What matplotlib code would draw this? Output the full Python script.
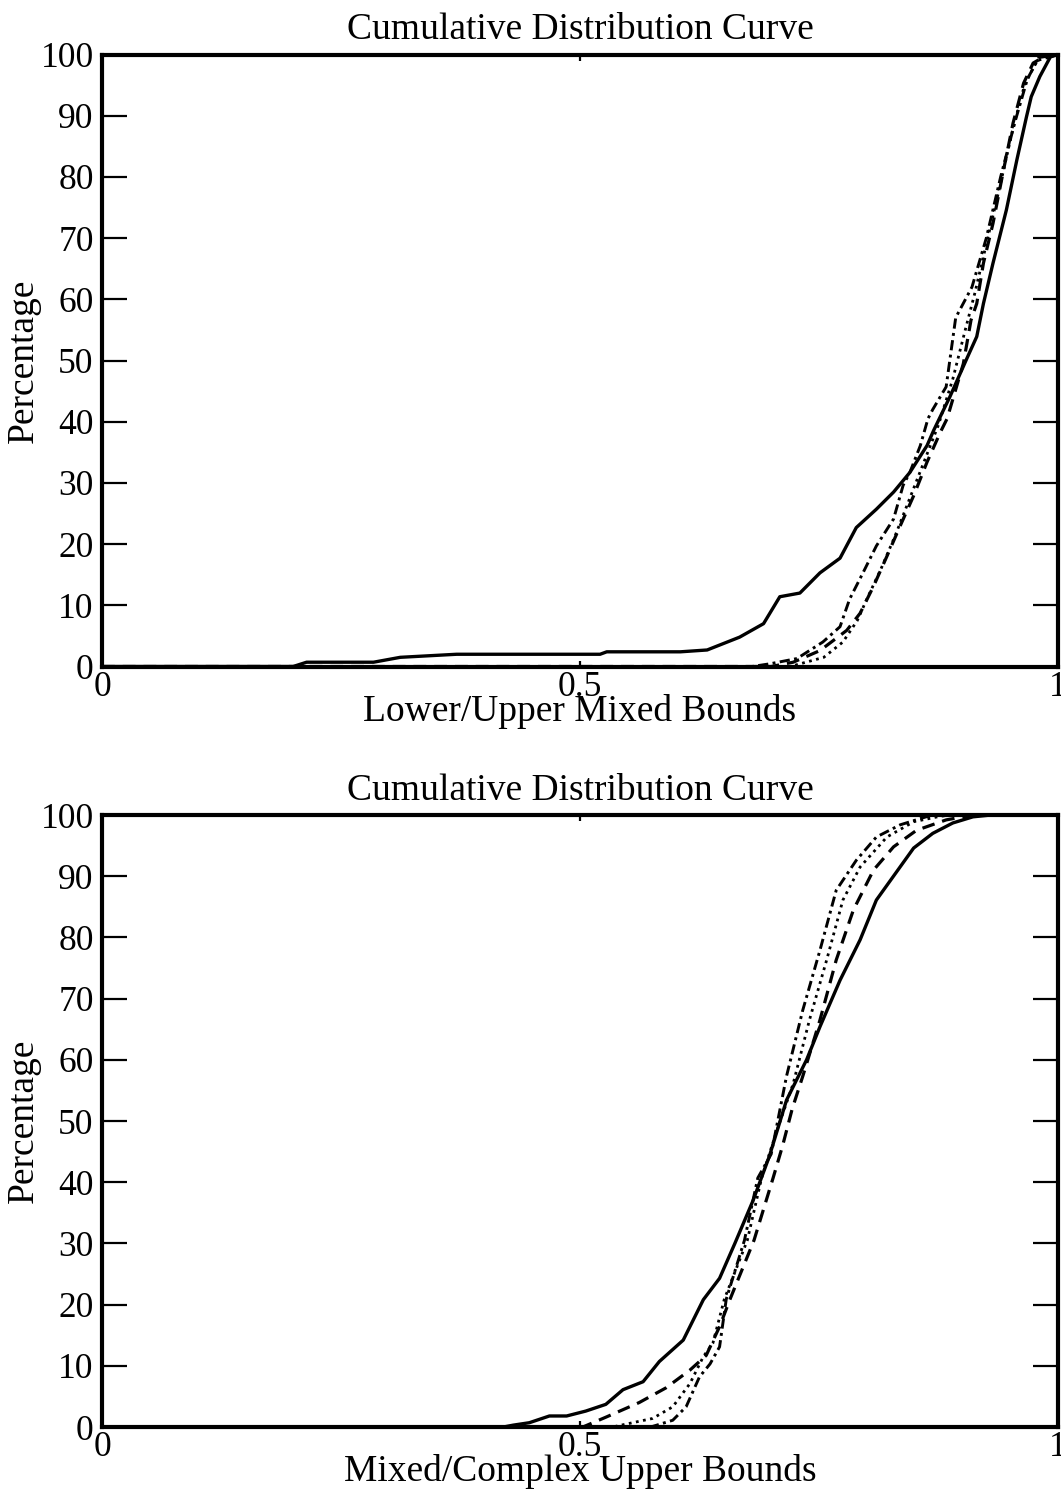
import matplotlib
matplotlib.use("Agg")
import matplotlib.pyplot as plt

plt.rcParams['font.family'] = ['Liberation Serif', 'DejaVu Serif']

# ---------------- data: top panel (Lower/Upper Mixed Bounds) ----------------
top_solid_x = [0.0, 0.20, 0.214, 0.284, 0.312, 0.371, 0.521, 0.528, 0.605, 0.633, 0.667, 0.692,
               0.709, 0.730, 0.751, 0.772, 0.789, 0.810, 0.828, 0.845, 0.863, 0.870, 0.887, 0.904,
               0.915, 0.922, 0.932, 0.946, 0.957, 0.967, 0.972, 0.981, 0.992, 1.0]
top_solid_y = [0.0, 0.0, 0.7, 0.7, 1.5, 2.0, 2.0, 2.4, 2.4, 2.7, 4.8, 7.0,
               11.4, 12.0, 15.3, 17.7, 22.7, 25.7, 28.5, 31.7, 36.1, 38.6, 44.1, 50.1,
               53.9, 59.3, 65.9, 74.6, 82.8, 89.8, 93.1, 96.4, 99.6, 100.0]

top_dashed_x = [0.0, 0.70, 0.723, 0.751, 0.779, 0.793, 0.807, 0.821, 0.835, 0.849, 0.863, 0.877,
                0.884, 0.901, 0.909, 0.915, 0.922, 0.932, 0.943, 0.953, 0.964, 0.974, 0.985, 1.0]
top_dashed_y = [0.0, 0.0, 0.7, 2.6, 5.9, 8.7, 13.1, 18.0, 23.0, 27.9, 33.4, 38.3,
                40.5, 49.5, 56.6, 59.3, 65.9, 72.4, 81.1, 88.8, 95.3, 98.6, 99.6, 100.0]

top_dotted_x = [0.0, 0.72, 0.755, 0.775, 0.79, 0.80, 0.815, 0.83, 0.845, 0.86, 0.875,
                0.89, 0.903, 0.913, 0.925, 0.94, 0.953, 0.965, 0.978, 1.0]
top_dotted_y = [0.0, 0.0, 1.5, 4.0, 7.5, 11.0, 16.0, 21.5, 27.5, 33.5, 39.5,
                47.0, 55.0, 61.0, 69.0, 79.0, 88.0, 95.0, 99.0, 100.0]

top_dashdot_x = [0.0, 0.68, 0.699, 0.727, 0.754, 0.772, 0.782, 0.796, 0.810, 0.828, 0.838, 0.845,
                 0.856, 0.864, 0.869, 0.883, 0.893, 0.910, 0.925, 0.940, 0.955, 0.968, 0.980, 1.0]
top_dashdot_y = [0.0, 0.0, 0.45, 1.3, 4.0, 6.5, 11.0, 15.3, 19.7, 24.1, 29.6, 31.7,
                 36.1, 40.5, 42.0, 45.7, 57.0, 62.0, 70.0, 80.0, 89.0, 96.0, 99.5, 100.0]

# ---------------- data: bottom panel (Mixed/Complex Upper Bounds) ----------------
bot_solid_x = [0.0, 0.42, 0.430, 0.447, 0.468, 0.486, 0.506, 0.527, 0.545, 0.566, 0.583, 0.608,
               0.629, 0.646, 0.662, 0.681, 0.698, 0.716, 0.737, 0.751, 0.772, 0.793, 0.810,
               0.849, 0.869, 0.890, 0.911, 0.93, 1.0]
bot_solid_y = [0.0, 0.0, 0.3, 0.7, 1.8, 1.8, 2.6, 3.7, 6.1, 7.4, 10.7, 14.2,
               20.8, 24.3, 30.0, 37.0, 44.2, 53.4, 60.0, 65.4, 73.0, 79.6, 86.1,
               94.6, 97.0, 98.7, 99.7, 100.0, 100.0]

bot_dashed_x = [0.0, 0.503, 0.527, 0.562, 0.590, 0.615, 0.632, 0.646, 0.657, 0.682, 0.702,
                0.712, 0.722, 0.733, 0.751, 0.768, 0.786, 0.807, 0.828, 0.852, 0.883, 0.904,
                0.92, 1.0]
bot_dashed_y = [0.0, 0.0, 1.6, 4.0, 6.4, 9.3, 11.7, 16.4, 20.9, 30.5, 40.7,
                46.0, 52.0, 57.3, 66.5, 76.3, 84.5, 91.0, 94.8, 97.5, 99.2, 99.8,
                100.0, 100.0]

bot_dotted_x = [0.0, 0.534, 0.576, 0.597, 0.615, 0.629, 0.639, 0.651, 0.675, 0.690, 0.705,
                0.723, 0.740, 0.758, 0.775, 0.793, 0.821, 0.849, 0.877, 0.89, 1.0]
bot_dotted_y = [0.0, 0.0, 1.4, 3.3, 7.1, 11.5, 13.7, 20.9, 30.5, 40.7, 48.0,
                56.1, 66.5, 76.3, 86.1, 91.5, 96.4, 98.9, 99.8, 100.0, 100.0]

bot_dashdot_x = [0.0, 0.570, 0.576, 0.597, 0.611, 0.625, 0.636, 0.646, 0.653, 0.672, 0.686,
                 0.700, 0.716, 0.733, 0.751, 0.768, 0.789, 0.810, 0.835, 0.862, 0.875, 1.0]
bot_dashdot_y = [0.0, 0.0, 0.1, 1.1, 3.3, 8.2, 10.3, 13.1, 20.9, 30.5, 40.7,
                 44.6, 57.3, 68.1, 77.9, 87.7, 92.6, 96.4, 98.4, 99.7, 100.0, 100.0]

title_text = "Cumulative Distribution Curve"
xlabels = ["Lower/Upper Mixed Bounds", "Mixed/Complex Upper Bounds"]
ylabel_text = "Percentage"
xtick_vals = [0, 0.5, 1]
xtick_labels = ["0", "0.5", "1"]
ytick_vals = [0, 10, 20, 30, 40, 50, 60, 70, 80, 90, 100]

panels = [
    (top_solid_x, top_solid_y, top_dashed_x, top_dashed_y,
     top_dotted_x, top_dotted_y, top_dashdot_x, top_dashdot_y),
    (bot_solid_x, bot_solid_y, bot_dashed_x, bot_dashed_y,
     bot_dotted_x, bot_dotted_y, bot_dashdot_x, bot_dashdot_y),
]

W, H = 1061, 1495
fig = plt.figure(figsize=(W / 100, H / 100), dpi=100)
fig.patch.set_facecolor("white")

axes_rects = [
    [102 / W, 1 - 666.5 / H, 956 / W, 612 / H],
    [102 / W, 1 - 1427 / H, 956 / W, 612 / H],
]

FS_TICK = 25.5
FS_LAB = 27
for rect, data, xl in zip(axes_rects, panels, xlabels):
    ax = fig.add_axes(rect)
    sx, sy, dx, dy, ox, oy, ddx, ddy = data
    ax.plot(sx, sy, color="black", lw=2.4, linestyle="-", solid_joinstyle="round")
    ax.plot(dx, dy, color="black", lw=2.3, linestyle=(0, (4, 2.5)))
    ax.plot(ox, oy, color="black", lw=2.0, linestyle=(0, (1, 1.6)))
    ax.plot(ddx, ddy, color="black", lw=2.1, linestyle=(0, (3.5, 1.5, 1, 1.5)))

    ax.set_xlim(0, 1)
    ax.set_ylim(0, 100)
    for sp in ax.spines.values():
        sp.set_linewidth(3.0)
        sp.set_color("black")

    ax.set_xticks(xtick_vals)
    ax.set_xticklabels(xtick_labels)
    ax.set_yticks(ytick_vals)
    ax.set_yticklabels([str(v) for v in ytick_vals])
    ax.tick_params(axis="y", direction="in", length=18, width=1.6, left=True, right=True,
                   labelsize=FS_TICK, pad=6)
    ax.tick_params(axis="x", direction="in", length=4.5, width=1.6, top=True, bottom=True,
                   labelsize=FS_TICK, pad=3)

    ax.set_title(title_text, fontsize=FS_LAB, pad=11)
    ax.set_xlabel(xl, fontsize=FS_LAB, labelpad=-7)
    ax.set_ylabel(ylabel_text, fontsize=FS_LAB, labelpad=0)

fig.savefig("out.png", dpi=100, facecolor="white")
